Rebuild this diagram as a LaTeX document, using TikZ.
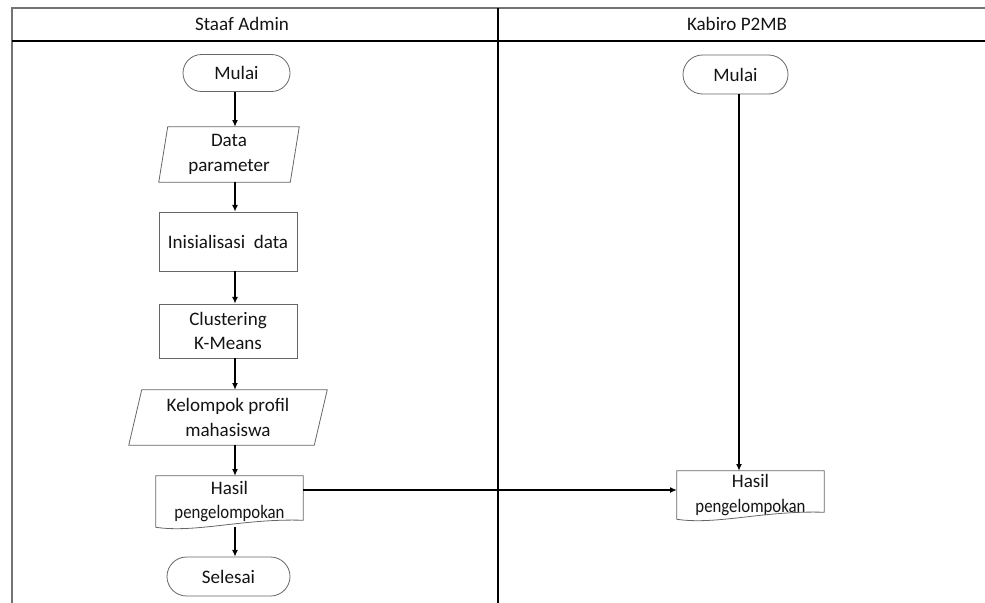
\documentclass[tikz,border=0pt]{standalone}
\usepackage{fontspec}
\setmainfont{Carlito}
\usetikzlibrary{shapes.misc,arrows.meta,calc}
\newcommand{\narrow}[1]{\scalebox{0.88}[1]{#1}}
\begin{document}
\begin{tikzpicture}[x=0.75pt,y=-0.75pt,
  font=\fontsize{14.3}{18.5}\selectfont,
  every node/.style={text=black!92},
  lane/.style={line width=1.1pt,black},
  outer/.style={line width=0.9pt,black!55},
  outline/.style={draw=black!60,line width=0.6pt},
  term/.style={rounded rectangle,outline,inner sep=0pt,align=center},
  body/.style={rectangle,inner sep=0pt,align=center},
  proc/.style={body,outline},
  arr/.style={line width=0.9pt,-{Latex[length=5pt,width=4.5pt]}}]
\useasboundingbox (0,0) rectangle (985,603);

% swimlane frame
\draw[outer] (985,8) -- (12,8) -- (12,603);
\draw[lane] (12,41) -- (985,41);
\draw[lane] (498,8) -- (498,603);
\node (hdrA) at (242,24) {Staaf Admin};
\node (hdrB) at (737,24) {Kabiro P2MB};

% helper coordinates for connector columns / rows
\coordinate (colA) at (235,0);
\coordinate (colB) at (739,0);
\coordinate (linkrow) at (0,490);

% Staaf Admin lane
\node[term, minimum width=80.25pt, minimum height=27.75pt] (mulaiA) at (236.5,73) {Mulai};
\node[body, minimum width=105pt, minimum height=41.25pt] (dataA) at (229,154.5) {Data\\parameter};
\draw[outline] ($(dataA.north west)+(9,0)$) -- (dataA.north east) -- ($(dataA.south east)+(-9,0)$) -- (dataA.south west) -- cycle;
\node[proc, minimum width=103.5pt, minimum height=44.25pt] (initA) at (228,241.5) {Inisialisasi\ \ data};
\node[proc, minimum width=103.5pt, minimum height=40.5pt] (clustA) at (228,331) {Clustering\\K-Means};
\node[body, minimum width=148.5pt, minimum height=41.25pt] (kelA) at (228,417.5) {Kelompok profil\\mahasiswa};
\draw[outline] ($(kelA.north west)+(13,0)$) -- (kelA.north east) -- ($(kelA.south east)+(-13,0)$) -- (kelA.south west) -- cycle;
\node[body, minimum width=110.25pt, minimum height=38.25pt] (hasilA) at (229.5,501.5) {Hasil\\\narrow{pengelompokan}};
\draw[outline] (hasilA.south west) -- (hasilA.north west) -- (hasilA.north east) -- ($(hasilA.south east)+(0,-7)$)
  .. controls ($(hasilA.south east)+(-60,-9)$) and ($(hasilA.south west)+(40,6)$) .. (hasilA.south west) -- cycle;
\node[term, minimum width=92.25pt, minimum height=29.25pt] (selesaiA) at (228.5,576.5) {Selesai};

% Kabiro P2MB lane
\node[term, minimum width=78.75pt, minimum height=29.25pt] (mulaiB) at (735.5,74.5) {Mulai};
\node[body, minimum width=110.25pt, minimum height=36pt] (hasilB) at (750.5,495) {Hasil\\\narrow{pengelompokan}};
\draw[outline] (hasilB.south west) -- (hasilB.north west) -- (hasilB.north east) -- ($(hasilB.south east)+(0,-7)$)
  .. controls ($(hasilB.south east)+(-60,-9)$) and ($(hasilB.south west)+(40,6)$) .. (hasilB.south west) -- cycle;

% connectors
\draw[arr] (mulaiA.south -| colA) -- (dataA.north -| colA);
\draw[arr] (dataA.south -| colA) -- (initA.north -| colA);
\draw[arr] (initA.south -| colA) -- (clustA.north -| colA);
\draw[arr] (clustA.south -| colA) -- (kelA.north -| colA);
\draw[arr] (kelA.south -| colA) -- (hasilA.north -| colA);
\draw[arr] (hasilA.south -| colA) -- (selesaiA.north -| colA);
\draw[arr] (hasilA.east |- linkrow) -- (hasilB.west |- linkrow);
\draw[arr] (mulaiB.south -| colB) -- (hasilB.north -| colB);
\end{tikzpicture}
\end{document}
